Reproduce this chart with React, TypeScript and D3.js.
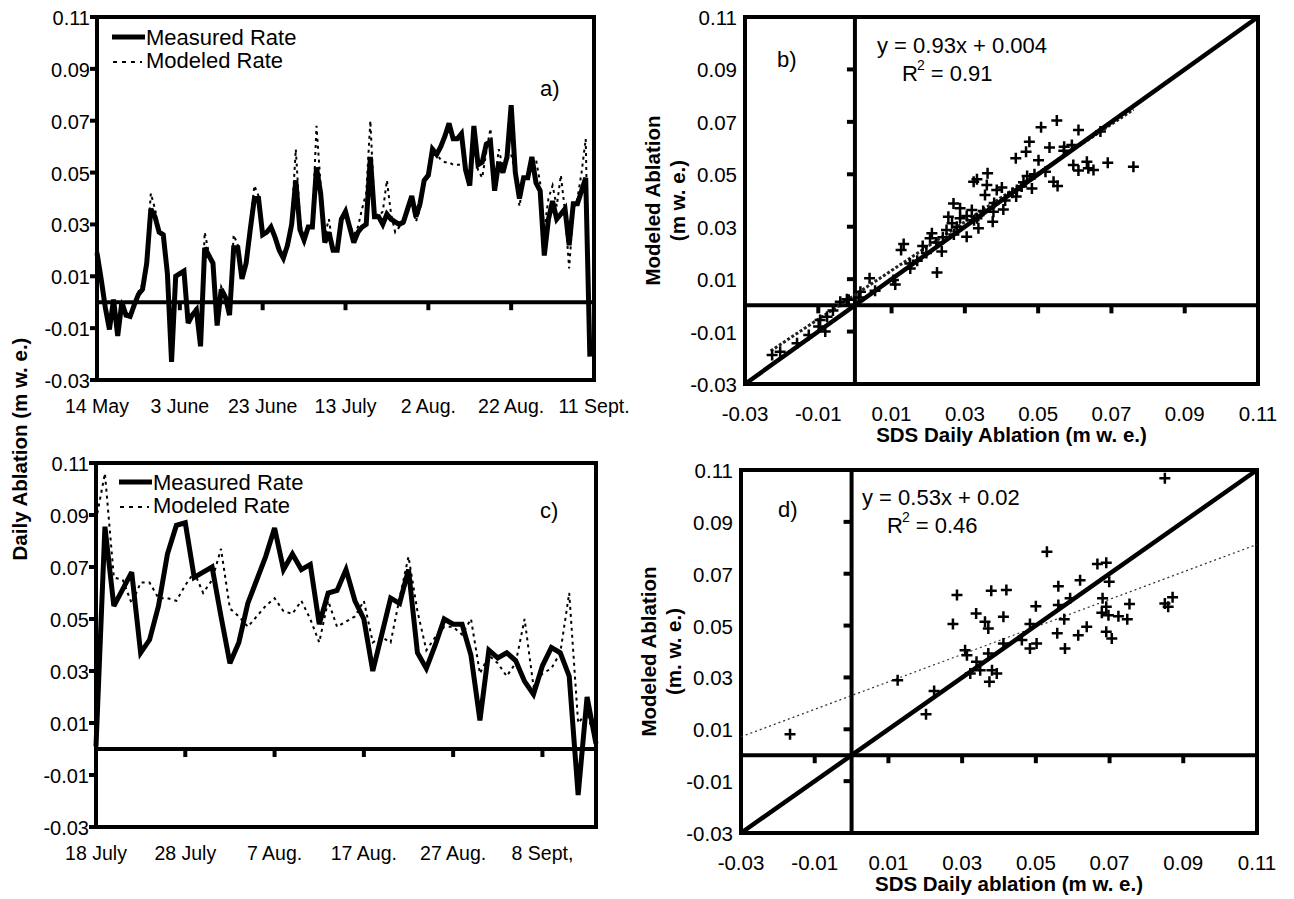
import React from 'react';
import * as d3 from 'd3';

const FONT = 'Liberation Sans, Arial, Helvetica, sans-serif';

const valueTicks = [-0.03, -0.01, 0.01, 0.03, 0.05, 0.07, 0.09, 0.11];

// Panel a (14 May -> 11 Sept, daily)
const dateLabelsA = ['14 May', '3 June', '23 June', '13 July', '2 Aug.', '22 Aug.', '11 Sept.'];
const dateTickDaysA = [0, 20, 40, 60, 80, 100, 120];
const measuredA = [
  0.019, 0.009, -0.002, -0.0105, 0.001, -0.013, 0.0, -0.005, -0.0055, -0.001,
  0.003, 0.005, 0.015, 0.036, 0.033, 0.027, 0.026, 0.011, -0.023, 0.010,
  0.011, 0.012, -0.008, -0.005, -0.003, -0.017, 0.021, 0.018, 0.015, -0.009,
  0.005, 0.002, -0.005, 0.021, 0.021, 0.009, 0.015, 0.028, 0.040, 0.040,
  0.026, 0.027, 0.029, 0.025, 0.020, 0.017, 0.022, 0.030, 0.047, 0.028,
  0.024, 0.029, 0.029, 0.052, 0.042, 0.023, 0.027, 0.020, 0.020, 0.032,
  0.035, 0.029, 0.023, 0.027, 0.029, 0.030, 0.056, 0.033, 0.033, 0.030,
  0.034, 0.032, 0.031, 0.030, 0.031, 0.036, 0.041, 0.033, 0.038, 0.047,
  0.049, 0.059, 0.057, 0.060, 0.064, 0.069, 0.063, 0.063, 0.065, 0.051,
  0.045, 0.068, 0.053, 0.054, 0.061, 0.062, 0.043, 0.054, 0.050, 0.056,
  0.076, 0.050, 0.040, 0.048, 0.048, 0.056, 0.046, 0.043, 0.018, 0.032,
  0.039, 0.032, 0.034, 0.036, 0.022, 0.038, 0.038, 0.043, 0.048, -0.021,
];
const modeledA = [
  0.023, 0.010, -0.001, -0.009, 0.001, -0.011, 0.0, -0.004, -0.005, 0.0,
  0.004, 0.007, 0.019, 0.042, 0.036, 0.028, 0.026, 0.012, -0.021, 0.009,
  0.012, 0.012, -0.007, -0.004, -0.002, -0.015, 0.027, 0.019, 0.016, -0.008,
  0.006, 0.003, -0.003, 0.026, 0.022, 0.010, 0.016, 0.030, 0.045, 0.041,
  0.027, 0.027, 0.029, 0.025, 0.020, 0.018, 0.024, 0.032, 0.059, 0.032,
  0.022, 0.029, 0.030, 0.068, 0.045, 0.026, 0.032, 0.021, 0.021, 0.031,
  0.034, 0.030, 0.026, 0.029, 0.036, 0.042, 0.070, 0.036, 0.033, 0.035,
  0.047, 0.034, 0.027, 0.029, 0.030, 0.035, 0.038, 0.031, 0.036, 0.046,
  0.050, 0.059, 0.057, 0.055, 0.054, 0.054, 0.053, 0.053, 0.053, 0.053,
  0.052, 0.060, 0.051, 0.048, 0.058, 0.067, 0.045, 0.059, 0.052, 0.055,
  0.057, 0.050, 0.037, 0.047, 0.049, 0.054, 0.055, 0.046, 0.028, 0.040,
  0.045, 0.037, 0.049, 0.035, 0.013, 0.036, 0.040, 0.050, 0.063, -0.020,
];

// Panel c (18 July -> ~12 Sept, daily)
const dateLabelsC = ['18 July', '28 July', '7 Aug.', '17 Aug.', '27 Aug.', '8 Sept,'];
const dateTickDaysC = [0, 10, 20, 30, 40, 50];
const measuredC = [
  0.001, 0.0855, 0.055, 0.0615, 0.068, 0.037, 0.042, 0.055, 0.075, 0.086,
  0.087, 0.066, 0.068, 0.070, 0.051, 0.033, 0.041, 0.056, 0.065, 0.074,
  0.085, 0.069, 0.075, 0.069, 0.071, 0.048, 0.060, 0.061, 0.069, 0.057,
  0.050, 0.030, 0.044, 0.058, 0.056, 0.069, 0.037, 0.031, 0.040, 0.050,
  0.048, 0.048, 0.036, 0.011, 0.038, 0.035, 0.037, 0.034, 0.026, 0.021,
  0.032, 0.039, 0.037, 0.028, -0.0177, 0.020, 0.002,
];
const modeledC = [
  0.088, 0.106, 0.066, 0.065, 0.056, 0.064, 0.064, 0.058, 0.058, 0.057,
  0.063, 0.068, 0.060, 0.065, 0.077, 0.054, 0.051, 0.047, 0.051, 0.055,
  0.058, 0.053, 0.052, 0.057, 0.050, 0.041, 0.057, 0.047, 0.049, 0.051,
  0.057, 0.041, 0.043, 0.041, 0.058, 0.074, 0.053, 0.038, 0.043, 0.047,
  0.047, 0.044, 0.050, 0.029, 0.036, 0.033, 0.028, 0.033, 0.050, 0.024,
  0.029, 0.031, 0.037, 0.060, 0.010, 0.014, 0.002,
];

// Panel b scatter
const sdsB = [
  0.0551, 0.0508, 0.061, 0.0476, 0.0531, 0.0571, 0.0592, 0.0467, 0.0439, 0.0501,
  0.0596, 0.0633, 0.0637, 0.0651, 0.061, 0.069, 0.076, 0.047, 0.0483, 0.0542,
  0.0553, 0.0324, 0.0333, 0.0362, 0.036, 0.0387, 0.0401, 0.0355, 0.0442, 0.0455,
  0.044, 0.0269, 0.0287, 0.0255, 0.0265, 0.0319, 0.0305, 0.0333, 0.0337, 0.0305,
  0.0378, 0.0376, 0.0405, 0.021, 0.0205, 0.0185, 0.0237, 0.0224, 0.0133, 0.0126,
  0.0151, 0.0105, 0.011, 0.004, 0.0055, 0.0015, -0.0022, 0.025, 0.0278, 0.0287,
  0.0222, 0.0195, 0.017, 0.015, 0.041, 0.043, 0.046, 0.049, 0.052, 0.057,
  0.067, 0.0325, 0.035, 0.038, 0.027, 0.024, -0.0226, -0.0204, -0.0158, -0.0126,
  -0.0099, -0.0081, -0.0095, -0.0076, -0.004, -0.0017, -0.006, 0.001,
];
const modeledB = [
  0.0705, 0.0679, 0.0669, 0.0624, 0.0602, 0.0605, 0.0612, 0.0586, 0.0561, 0.0554,
  0.0535, 0.0548, 0.0523, 0.0516, 0.0514, 0.0544, 0.0529, 0.0493, 0.0446, 0.0472,
  0.0455, 0.0472, 0.0481, 0.0504, 0.0459, 0.044, 0.045, 0.0421, 0.044, 0.0453,
  0.0415, 0.0389, 0.037, 0.0338, 0.0313, 0.0364, 0.0341, 0.0332, 0.0294, 0.0262,
  0.0357, 0.0319, 0.0366, 0.0275, 0.0256, 0.0226, 0.0205, 0.0125, 0.0234, 0.0211,
  0.0141, 0.0097, 0.008, 0.0103, 0.0056, 0.0052, 0.0023, 0.0287, 0.030, 0.0332,
  0.024, 0.020, 0.017, 0.016, 0.040, 0.043, 0.047, 0.050, 0.051, 0.059,
  0.0663, 0.0325, 0.036, 0.039, 0.027, 0.026, -0.0189, -0.0177, -0.0145, -0.0113,
  -0.0081, -0.010, -0.0056, -0.0043, 0.0014, 0.0021, -0.002, 0.003,
];
const fitB = { slope: 0.93, intercept: 0.004, from: -0.023, to: 0.076 };

// Panel d scatter
const sdsD = [
  0.085, 0.053, 0.0667, 0.0691, 0.062, 0.0699, 0.0561, 0.0286, 0.0379, 0.042,
  0.0593, 0.0681, 0.0871, 0.085, 0.0859, 0.05, 0.0561, 0.0754, 0.0691, 0.0679,
  0.0697, 0.0724, 0.0748, 0.0577, 0.0338, 0.0362, 0.0371, 0.0412, 0.0275, 0.0484,
  0.0638, 0.0615, 0.0558, 0.0691, 0.0706, 0.0462, 0.0412, 0.0502, 0.0484, 0.0579,
  0.0308, 0.0313, 0.0371, 0.0339, 0.0322, 0.0349, 0.0381, 0.0394, 0.0374, 0.0125,
  0.0224, 0.0202, -0.0167,
];
const modeledD = [
  0.1068, 0.0785, 0.0737, 0.0742, 0.0675, 0.0669, 0.0652, 0.0618, 0.0634, 0.0637,
  0.0605, 0.0605, 0.0609, 0.0585, 0.0573, 0.0575, 0.0579, 0.0583, 0.0573, 0.0549,
  0.054, 0.0536, 0.0524, 0.0524, 0.0547, 0.0515, 0.0489, 0.0534, 0.0506, 0.0506,
  0.0495, 0.0463, 0.047, 0.0476, 0.045, 0.0444, 0.0431, 0.0431, 0.0412, 0.0412,
  0.0405, 0.0386, 0.0392, 0.036, 0.0315, 0.0328, 0.0328, 0.0315, 0.0283, 0.0289,
  0.0248, 0.0158, 0.0081,
];
const fitD = { slope: 0.53, intercept: 0.023, from: -0.03, to: 0.11 };

const fmt = (v: number) => (Math.round(v * 100) / 100).toFixed(2);

type TimeProps = {
  left: number; right: number; top: number; bottom: number;
  nDays: number; measured: number[]; modeled: number[];
  tickDays: number[]; labels: string[];
  legend: { x: number; y: number };
  tag: { text: string; x: number; y: number };
};

function TimePanel(p: TimeProps) {
  const x = d3.scaleLinear().domain([0, p.nDays]).range([p.left, p.right]);
  const y = d3.scaleLinear().domain([-0.03, 0.11]).range([p.bottom, p.top]);
  const line = d3.line<number>().x((_, i) => x(i)).y((d) => y(d));
  const y0 = y(0);
  return (
    <g>
      <rect x={p.left} y={p.top} width={p.right - p.left} height={p.bottom - p.top}
        fill="none" stroke="#000" strokeWidth={4} />
      <line x1={p.left} x2={p.right} y1={y0} y2={y0} stroke="#000" strokeWidth={4} />
      {p.tickDays.map((d) => (
        <line key={'xt' + d} x1={x(d)} x2={x(d)} y1={y0} y2={y0 + 8} stroke="#000" strokeWidth={4} />
      ))}
      {valueTicks.map((v) => (
        <line key={'yt' + v} x1={p.left - 7} x2={p.left} y1={y(v)} y2={y(v)} stroke="#000" strokeWidth={4} />
      ))}
      {valueTicks.map((v) => (
        <text key={'yl' + v} x={p.left - 7} y={y(v) + 8} textAnchor="end" fontSize={20} fontFamily={FONT}>{fmt(v)}</text>
      ))}
      {p.tickDays.map((d, i) => (
        <text key={'xl' + d} x={x(d)} y={p.bottom + 33} textAnchor="middle" fontSize={19.5} fontFamily={FONT}>{p.labels[i]}</text>
      ))}
      <path d={line(p.modeled) || ''} fill="none" stroke="#000" strokeWidth={2} strokeDasharray="3,4" />
      <path d={line(p.measured) || ''} fill="none" stroke="#000" strokeWidth={5} strokeLinejoin="miter" strokeMiterlimit={3} />
      <line x1={p.legend.x} x2={p.legend.x + 33} y1={p.legend.y} y2={p.legend.y} stroke="#000" strokeWidth={5} />
      <text x={p.legend.x + 34} y={p.legend.y + 8} fontSize={22} fontFamily={FONT}>Measured Rate</text>
      <line x1={p.legend.x + 1} x2={p.legend.x + 30} y1={p.legend.y + 25} y2={p.legend.y + 25} stroke="#000" strokeWidth={2} strokeDasharray="4,5" />
      <text x={p.legend.x + 34} y={p.legend.y + 31} fontSize={22} fontFamily={FONT}>Modeled Rate</text>
      <text x={p.tag.x} y={p.tag.y} fontSize={22} fontFamily={FONT}>{p.tag.text}</text>
    </g>
  );
}

type ScatterProps = {
  left: number; right: number; top: number; bottom: number;
  xs: number[]; ys: number[];
  fit: { slope: number; intercept: number; from: number; to: number };
  fitStyle: { width: number; dash: string; color: string };
  eq: string; r2: string; eqPos: { x: number; y: number };
  tag: { text: string; x: number; y: number };
  xTitle: string; yTitle1: string; yTitle2: string;
};

function ScatterPanel(p: ScatterProps) {
  const x = d3.scaleLinear().domain([-0.03, 0.11]).range([p.left, p.right]);
  const y = d3.scaleLinear().domain([-0.03, 0.11]).range([p.bottom, p.top]);
  const x0 = x(0);
  const y0 = y(0);
  const fitLine = d3.line<number>().x((d) => x(d)).y((d) => y(p.fit.slope * d + p.fit.intercept));
  const one = d3.line<number>().x((d) => x(d)).y((d) => y(d));
  const cy = (p.top + p.bottom) / 2;
  return (
    <g>
      <rect x={p.left} y={p.top} width={p.right - p.left} height={p.bottom - p.top}
        fill="none" stroke="#000" strokeWidth={4} />
      <line x1={x0} x2={x0} y1={p.top} y2={p.bottom} stroke="#000" strokeWidth={4} />
      <line x1={p.left} x2={p.right} y1={y0} y2={y0} stroke="#000" strokeWidth={4} />
      {valueTicks.map((v) => (
        <line key={'yt' + v} x1={x0 - 8} x2={x0} y1={y(v)} y2={y(v)} stroke="#000" strokeWidth={4} />
      ))}
      {valueTicks.map((v) => (
        <line key={'xt' + v} x1={x(v)} x2={x(v)} y1={y0} y2={y0 + 8} stroke="#000" strokeWidth={4} />
      ))}
      {valueTicks.map((v) => (
        <text key={'yl' + v} x={p.left - 8} y={y(v) + 8} textAnchor="end" fontSize={20.5} fontFamily={FONT}>{fmt(v)}</text>
      ))}
      {valueTicks.map((v) => (
        <text key={'xl' + v} x={x(v)} y={p.bottom + 37} textAnchor="middle" fontSize={20.5} fontFamily={FONT}>{fmt(v)}</text>
      ))}
      <path d={fitLine([p.fit.from, p.fit.to]) || ''} fill="none" stroke={p.fitStyle.color}
        strokeWidth={p.fitStyle.width} strokeDasharray={p.fitStyle.dash} />
      <path d={one([-0.03, 0.11]) || ''} fill="none" stroke="#000" strokeWidth={4.5} />
      {p.xs.map((v, i) => (
        <path key={'pt' + i} d={`M${x(v) - 5.5},${y(p.ys[i])}h11M${x(v)},${y(p.ys[i]) - 5.5}v11`}
          stroke="#000" strokeWidth={2.5} fill="none" />
      ))}
      <text x={p.eqPos.x} y={p.eqPos.y} fontSize={22} fontFamily={FONT}>{p.eq}</text>
      <text x={p.eqPos.x + 25} y={p.eqPos.y + 28} fontSize={22} fontFamily={FONT}>
        R<tspan fontSize={14} dy={-11} dx={-1}>2</tspan><tspan dy={11}>{' = ' + p.r2}</tspan>
      </text>
      <text x={p.tag.x} y={p.tag.y} fontSize={22} fontFamily={FONT}>{p.tag.text}</text>
      <text x={(p.left + p.right) / 2 + 10} y={p.bottom + 58} textAnchor="middle" fontSize={20.5}
        fontWeight="bold" fontFamily={FONT}>{p.xTitle}</text>
      <text transform={`translate(${p.left - 85},${cy}) rotate(-90)`} textAnchor="middle" fontSize={20.5}
        fontWeight="bold" fontFamily={FONT}>{p.yTitle1}</text>
      <text transform={`translate(${p.left - 60},${cy}) rotate(-90)`} textAnchor="middle" fontSize={20.5}
        fontWeight="bold" fontFamily={FONT}>{p.yTitle2}</text>
    </g>
  );
}

export default function App() {
  return (
    <svg width={1294} height={899} style={{ position: 'absolute', left: 0, top: 0, background: '#fff' }}>
      <rect x={0} y={0} width={1294} height={899} fill="#fff" />
      <TimePanel left={97} right={594} top={17} bottom={380} nDays={120}
        measured={measuredA} modeled={modeledA} tickDays={dateTickDaysA} labels={dateLabelsA}
        legend={{ x: 112, y: 37 }} tag={{ text: 'a)', x: 540, y: 96 }} />
      <TimePanel left={96} right={596} top={463} bottom={827} nDays={56}
        measured={measuredC} modeled={modeledC} tickDays={dateTickDaysC} labels={dateLabelsC}
        legend={{ x: 119, y: 482 }} tag={{ text: 'c)', x: 540, y: 518 }} />
      <text transform="translate(27,449) rotate(-90)" textAnchor="middle" fontSize={20.5}
        fontWeight="bold" fontFamily={FONT}>Daily Ablation (m w. e.)</text>
      <ScatterPanel left={745} right={1258} top={17} bottom={384} xs={sdsB} ys={modeledB}
        fit={fitB} fitStyle={{ width: 3, dash: '3,2', color: '#222' }}
        eq="y = 0.93x + 0.004" r2="0.91" eqPos={{ x: 877, y: 53 }}
        tag={{ text: 'b)', x: 777, y: 67 }}
        xTitle="SDS Daily Ablation (m w. e.)" yTitle1="Modeled Ablation" yTitle2="(m w. e.)" />
      <ScatterPanel left={741} right={1257} top={470} bottom={833} xs={sdsD} ys={modeledD}
        fit={fitD} fitStyle={{ width: 1.2, dash: '2,3', color: '#333' }}
        eq="y = 0.53x + 0.02" r2="0.46" eqPos={{ x: 862, y: 505 }}
        tag={{ text: 'd)', x: 778, y: 517 }}
        xTitle="SDS Daily ablation (m w. e.)" yTitle1="Modeled Ablation" yTitle2="(m. w. e.)" />
    </svg>
  );
}
